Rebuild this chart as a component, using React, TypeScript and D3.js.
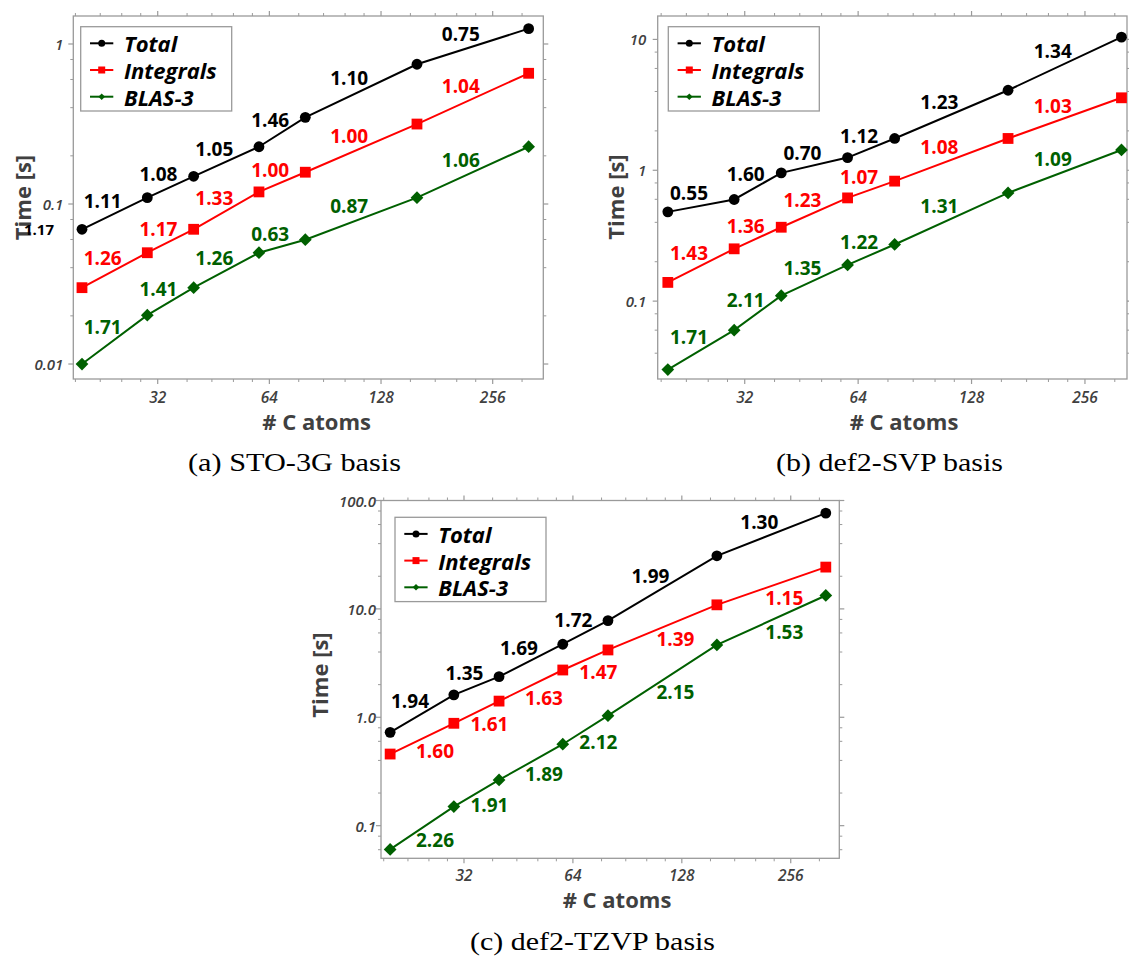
import React from 'react';
import * as d3 from 'd3';

// ---------- data ----------
const atoms = [20, 30, 40, 60, 80, 160, 320];
const seriesNames = ['Total', 'Integrals', 'BLAS-3'];
const xTickValues = [32, 64, 128, 256];

// (a) STO-3G
const stoTotal = [0.0695, 0.1096, 0.149, 0.228, 0.348, 0.747, 1.247];
const stoIntegrals = [0.030, 0.0496, 0.0695, 0.119, 0.158, 0.316, 0.656];
const stoBlas = [0.0100, 0.0202, 0.030, 0.0496, 0.0598, 0.1096, 0.228];
const stoTotalLabels = ['1.11', '1.08', '1.05', '1.46', '1.10', '0.75'];
const stoIntegralsLabels = ['1.26', '1.17', '1.33', '1.00', '1.00', '1.04'];
const stoBlasLabels = ['1.71', '1.41', '1.26', '0.63', '0.87', '1.06'];
const stoExtraLabel = '1.17';
const stoYTicks = [0.01, 0.1, 1];
const stoYTickLabels = ['0.01', '0.1', '1'];

// (b) def2-SVP
const svpTotal = [0.481, 0.598, 0.955, 1.25, 1.75, 4.09, 10.4];
const svpIntegrals = [0.139, 0.251, 0.367, 0.615, 0.826, 1.75, 3.58];
const svpBlas = [0.030, 0.060, 0.110, 0.189, 0.271, 0.671, 1.43];
const svpTotalLabels = ['0.55', '1.60', '0.70', '1.12', '1.23', '1.34'];
const svpIntegralsLabels = ['1.43', '1.36', '1.23', '1.07', '1.08', '1.03'];
const svpBlasLabels = ['1.71', '2.11', '1.35', '1.22', '1.31', '1.09'];
const svpYTicks = [0.1, 1, 10];
const svpYTickLabels = ['0.1', '1', '10'];

// (c) def2-TZVP
const tzvpTotal = [0.726, 1.61, 2.37, 4.72, 7.8, 30.9, 76.5];
const tzvpIntegrals = [0.458, 0.88, 1.41, 2.73, 4.18, 10.9, 24.3];
const tzvpBlas = [0.0604, 0.150, 0.264, 0.564, 1.035, 4.65, 13.3];
const tzvpTotalLabels = ['1.94', '1.35', '1.69', '1.72', '1.99', '1.30'];
const tzvpIntegralsLabels = ['1.60', '1.61', '1.63', '1.47', '1.39', '1.15'];
const tzvpBlasLabels = ['2.26', '1.91', '1.89', '2.12', '2.15', '1.53'];
const tzvpYTicks = [0.1, 1, 10, 100];
const tzvpYTickLabels = ['0.1', '1.0', '10.0', '100.0'];

// ---------- styles ----------
const COLORS = ['#000000', '#ff0000', '#006000'];
const SHAPES = ['circle', 'square', 'diamond'];
const SANS = '"Open Sans", "DejaVu Sans", sans-serif';
const SERIF = '"Liberation Serif", "DejaVu Serif", serif';
const AXIS_GRAY = '#9a9a9a';
const TEXT_GRAY = '#404040';

type Panel = {
  key: string;
  left: number; right: number; top: number; bottom: number;
  xDomain: [number, number]; yDomain: [number, number];
  yTicks: number[]; yTickLabels: string[];
  series: number[][]; labels: string[][]; sides: number[];
  yLabelGap: number;
  legend: [number, number];
  yTitle: [number, number];
  xTitle: [number, number];
  xTickY: number;
  caption: string; captionPos: [number, number]; captionLen: number;
  extra?: { text: string; series: number; index: number };
};

const panels: Panel[] = [
  {
    key: 'a', left: 73.3, right: 543.3, top: 16, bottom: 379,
    xDomain: [18.95, 350.5], yDomain: [0.00806, 1.496],
    yTicks: stoYTicks, yTickLabels: stoYTickLabels,
    series: [stoTotal, stoIntegrals, stoBlas],
    labels: [stoTotalLabels, stoIntegralsLabels, stoBlasLabels],
    sides: [1, 1, 1], yLabelGap: 10,
    legend: [80.7, 26.7], yTitle: [22, 197.5], xTitle: [316.7, 420.7], xTickY: 396.7,
    caption: '(a) STO-3G basis', captionPos: [294.5, 471], captionLen: 213,
    extra: { text: stoExtraLabel, series: 0, index: 0 },
  },
  {
    key: 'b', left: 657.7, right: 1127, top: 16, bottom: 379,
    xDomain: [18.8, 331], yDomain: [0.0254, 15.1],
    yTicks: svpYTicks, yTickLabels: svpYTickLabels,
    series: [svpTotal, svpIntegrals, svpBlas],
    labels: [svpTotalLabels, svpIntegralsLabels, svpBlasLabels],
    sides: [1, 1, 1], yLabelGap: 11.5,
    legend: [668.3, 26.7], yTitle: [615, 197], xTitle: [904, 420.5], xTickY: 396.7,
    caption: '(b) def2-SVP basis', captionPos: [889.5, 471], captionLen: 227,
  },
  {
    key: 'c', left: 381, right: 839.3, top: 500.5, bottom: 858.3,
    xDomain: [18.87, 348.7], yDomain: [0.05, 100],
    yTicks: tzvpYTicks, yTickLabels: tzvpYTickLabels,
    series: [tzvpTotal, tzvpIntegrals, tzvpBlas],
    labels: [tzvpTotalLabels, tzvpIntegralsLabels, tzvpBlasLabels],
    sides: [1, -1, -1], yLabelGap: 5,
    legend: [395, 517.3], yTitle: [318.5, 675], xTitle: [617, 899], xTickY: 875,
    caption: '(c) def2-TZVP basis', captionPos: [592.5, 950], captionLen: 245,
  },
];

function Marker({ shape, x, y, s, color }: { shape: string; x: number; y: number; s: number; color: string }) {
  if (shape === 'circle') return <circle cx={x} cy={y} r={s} fill={color} />;
  if (shape === 'square') return <rect x={x - s} y={y - s} width={2 * s} height={2 * s} fill={color} />;
  const d = s * 1.18;
  return <path d={`M${x},${y - d}L${x + d},${y}L${x},${y + d}L${x - d},${y}Z`} fill={color} />;
}

function xMinorTicks(domain: [number, number]) {
  const out: number[] = [];
  for (let k = 3; k <= 9; k++) {
    const base = Math.pow(2, k);
    for (let i = 1; i <= 4; i++) {
      const v = base * (1 + i / 5);
      if (v >= domain[0] && v <= domain[1]) out.push(v);
    }
  }
  return out;
}
function yMinorTicks(domain: [number, number]) {
  const out: number[] = [];
  for (let k = -3; k <= 2; k++) {
    const base = Math.pow(10, k);
    for (const m of [2, 4, 6, 8]) {
      const v = base * m;
      if (v >= domain[0] && v <= domain[1]) out.push(v);
    }
  }
  return out;
}

function PanelView({ p }: { p: Panel }) {
  const xs = d3.scaleLog().base(2).domain(p.xDomain).range([p.left, p.right]);
  const ys = d3.scaleLog().domain(p.yDomain).range([p.bottom, p.top]);
  const line = d3.line<[number, number]>().x((d) => xs(d[0])).y((d) => ys(d[1]));
  const maj = 5, mn = 3;
  const xMin = xMinorTicks(p.xDomain);
  const yMin = yMinorTicks(p.yDomain);
  const yMajor = p.yTicks.filter((v) => v >= p.yDomain[0] && v <= p.yDomain[1] * 1.0001);

  return (
    <g>
      {/* frame */}
      <rect x={p.left} y={p.top} width={p.right - p.left} height={p.bottom - p.top} fill="none" stroke={AXIS_GRAY} strokeWidth={1.3} />
      {/* x ticks (bottom & top, outward) */}
      {xTickValues.map((v) => (
        <g key={'xt' + v}>
          <line x1={xs(v)} x2={xs(v)} y1={p.bottom} y2={p.bottom + maj} stroke={AXIS_GRAY} strokeWidth={1.2} />
          <line x1={xs(v)} x2={xs(v)} y1={p.top} y2={p.top - maj} stroke={AXIS_GRAY} strokeWidth={1.2} />
          <text x={xs(v)} y={p.xTickY} textAnchor="middle" dominantBaseline="central" fontFamily={SANS} fontStyle="italic" fontWeight={600} fontSize={15.5} fill={TEXT_GRAY}>{v}</text>
        </g>
      ))}
      {xMin.map((v) => (
        <g key={'xm' + v}>
          <line x1={xs(v)} x2={xs(v)} y1={p.bottom} y2={p.bottom + mn} stroke={AXIS_GRAY} strokeWidth={1} />
          <line x1={xs(v)} x2={xs(v)} y1={p.top} y2={p.top - mn} stroke={AXIS_GRAY} strokeWidth={1} />
        </g>
      ))}
      {/* y ticks */}
      {yMajor.map((v, i) => (
        <g key={'yt' + v}>
          <line x1={p.left} x2={p.left - maj} y1={ys(v)} y2={ys(v)} stroke={AXIS_GRAY} strokeWidth={1.2} />
          <line x1={p.right} x2={p.right + maj} y1={ys(v)} y2={ys(v)} stroke={AXIS_GRAY} strokeWidth={1.2} />
          <text x={p.left - p.yLabelGap} y={ys(v)} textAnchor="end" dominantBaseline="central" fontFamily={SANS} fontStyle="italic" fontWeight={600} fontSize={15} fill={TEXT_GRAY}>{p.yTickLabels[p.yTicks.indexOf(v)]}</text>
        </g>
      ))}
      {yMin.map((v) => (
        <g key={'ym' + v}>
          <line x1={p.left} x2={p.left - mn} y1={ys(v)} y2={ys(v)} stroke={AXIS_GRAY} strokeWidth={1} />
          <line x1={p.right} x2={p.right + mn} y1={ys(v)} y2={ys(v)} stroke={AXIS_GRAY} strokeWidth={1} />
        </g>
      ))}
      {/* axis titles */}
      <text transform={`translate(${p.yTitle[0]},${p.yTitle[1]}) rotate(-90)`} textAnchor="middle" dominantBaseline="central" fontFamily={SANS} fontWeight={700} fontSize={22} fill={TEXT_GRAY}>Time [s]</text>
      <text x={p.xTitle[0]} y={p.xTitle[1]} textAnchor="middle" dominantBaseline="central" fontFamily={SANS} fontWeight={700} fontSize={22} fill={TEXT_GRAY}># C atoms</text>
      {/* series */}
      {p.series.map((vals, si) => {
        const pts = atoms.map((a, i) => [a, vals[i]] as [number, number]);
        return (
          <g key={'s' + si}>
            <path d={line(pts) || ''} fill="none" stroke={COLORS[si]} strokeWidth={2} />
            {pts.map((d, i) => (
              <Marker key={i} shape={SHAPES[si]} x={xs(d[0])} y={ys(d[1])} s={5.4} color={COLORS[si]} />
            ))}
          </g>
        );
      })}
      {/* exponent labels */}
      {p.series.map((vals, si) =>
        p.labels[si].map((lab, i) => {
          const mx = (xs(atoms[i]) + xs(atoms[i + 1])) / 2;
          const my = (ys(vals[i]) + ys(vals[i + 1])) / 2;
          const above = p.sides[si] > 0;
          const dx = above ? -12 : 13;
          const dy = above ? -12.5 : 12;
          return (
            <text key={`l${si}-${i}`} x={mx + dx} y={my + dy} textAnchor="middle" dominantBaseline="central" fontFamily={SANS} fontWeight={700} fontSize={19} fill={COLORS[si]}>{lab}</text>
          );
        })
      )}
      {p.extra && (
        <text x={xs(atoms[p.extra.index]) - 43} y={ys(p.series[p.extra.series][p.extra.index])} textAnchor="middle" dominantBaseline="central" fontFamily={SANS} fontWeight={700} fontSize={15} fill={COLORS[p.extra.series]}>{p.extra.text}</text>
      )}
      {/* legend */}
      <g transform={`translate(${p.legend[0]},${p.legend[1]})`}>
        <rect x={0} y={0} width={151} height={84.3} fill="#ffffff" stroke={AXIS_GRAY} strokeWidth={1.3} />
        {seriesNames.map((name, si) => {
          const yy = 16.6 + si * 26.7;
          return (
            <g key={name}>
              <line x1={9.3} x2={32.6} y1={yy} y2={yy} stroke={COLORS[si]} strokeWidth={2} />
              <Marker shape={SHAPES[si]} x={21} y={yy} s={si === 2 ? 2.8 : 3.5} color={COLORS[si]} />
              <text x={43.3} y={yy} dominantBaseline="central" fontFamily={SANS} fontWeight={700} fontStyle="italic" fontSize={22} fill="#000">{name}</text>
            </g>
          );
        })}
      </g>
      {/* caption */}
      <text x={p.captionPos[0]} y={p.captionPos[1]} textAnchor="middle" fontFamily={SERIF} fontSize={26} fill="#000" textLength={p.captionLen} lengthAdjust="spacingAndGlyphs">{p.caption}</text>
    </g>
  );
}

export default function App() {
  return (
    <svg width={1129} height={956} viewBox="0 0 1129 956" style={{ position: 'absolute', left: 0, top: 0, background: '#ffffff' }}>
      <rect x={0} y={0} width={1129} height={956} fill="#ffffff" />
      {panels.map((p) => (
        <PanelView key={p.key} p={p} />
      ))}
    </svg>
  );
}
